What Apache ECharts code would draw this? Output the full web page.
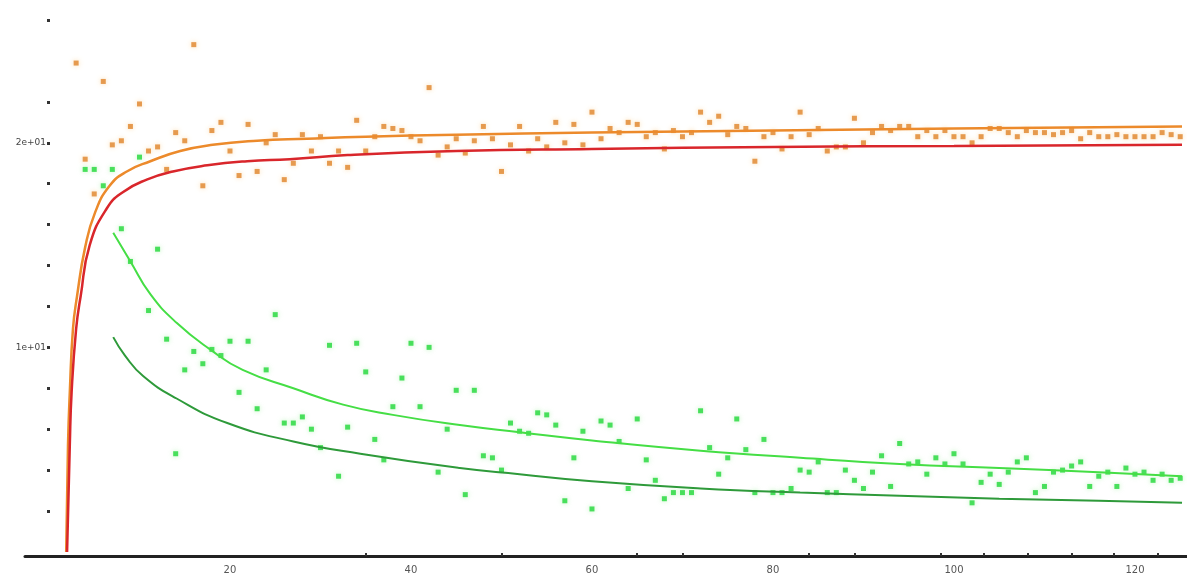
<!DOCTYPE html>
<html>
<head>
<meta charset="utf-8">
<script src="https://cdn.jsdelivr.net/npm/echarts@6/dist/echarts.min.js"></script>
<style>
  html, body { margin: 0; padding: 0; background: #fff; }
  #main { width: 1187px; height: 575px; }
</style>
</head>
<body>
<div id="main"></div>
<script>
// scatter samples, one per step, orange from x=3, green from x=4
var orangeStart = 3;
var orangeY = [
    23.9, 19.2, 17.5, 23.0, 19.9, 20.1, 20.8, 21.9, 19.6, 19.8,
    18.7, 20.5, 20.1, 24.8, 17.9, 20.6, 21.0, 19.6, 18.4, 20.9,
    18.6, 20.0, 20.4, 18.2, 19.0, 20.4, 19.6, 20.3, 19.0, 19.6,
    18.8, 21.1, 19.6, 20.3, 20.8, 20.7, 20.6, 20.3, 20.1, 22.7,
    19.4, 19.8, 20.2, 19.5, 20.1, 20.8, 20.2, 18.6, 19.9, 20.8,
    19.6, 20.2, 19.8, 21.0, 20.0, 20.9, 19.9, 21.5, 20.2, 20.7,
    20.5, 21.0, 20.9, 20.3, 20.5, 19.7, 20.6, 20.3, 20.5, 21.5,
    21.0, 21.3, 20.4, 20.8, 20.7, 19.1, 20.3, 20.5, 19.7, 20.3,
    21.5, 20.4, 20.7, 19.6, 19.8, 19.8, 21.2, 20.0, 20.5, 20.8,
    20.6, 20.8, 20.8, 20.3, 20.6, 20.3, 20.6, 20.3, 20.3, 20.0,
    20.3, 20.7, 20.7, 20.5, 20.3, 20.6, 20.5, 20.5, 20.4, 20.5,
    20.6, 20.2, 20.5, 20.3, 20.3, 20.4, 20.3, 20.3, 20.3, 20.3,
    20.5, 20.4, 20.3
];
var greenStart = 4;
var greenY = [
    18.7, 18.7, 17.9, 18.7, 15.8, 14.2, 19.3, 11.8, 14.8, 10.4,
    4.8, 8.9, 9.8, 9.2, 9.9, 9.6, 10.3, 7.8, 10.3, 7.0,
    8.9, 11.6, 6.3, 6.3, 6.6, 6.0, 5.1, 10.1, 3.7, 6.1,
    10.2, 8.8, 5.5, 4.5, 7.1, 8.5, 10.2, 7.1, 10.0, 3.9,
    6.0, 7.9, 2.8, 7.9, 4.7, 4.6, 4.0, 6.3, 5.9, 5.8,
    6.8, 6.7, 6.2, 2.5, 4.6, 5.9, 2.1, 6.4, 6.2, 5.4,
    3.1, 6.5, 4.5, 3.5, 2.6, 2.9, 2.9, 2.9, 6.9, 5.1,
    3.8, 4.6, 6.5, 5.0, 2.9, 5.5, 2.9, 2.9, 3.1, 4.0,
    3.9, 4.4, 2.9, 2.9, 4.0, 3.5, 3.1, 3.9, 4.7, 3.2,
    5.3, 4.3, 4.4, 3.8, 4.6, 4.3, 4.8, 4.3, 2.4, 3.4,
    3.8, 3.3, 3.9, 4.4, 4.6, 2.9, 3.2, 3.9, 4.0, 4.2,
    4.4, 3.2, 3.7, 3.9, 3.2, 4.1, 3.8, 3.9, 3.5, 3.8,
    3.5, 3.6
];

// fitted curves as [x, y]
var fitOrange = [[1.9, 0.0], [2.1, 5.2], [2.3, 7.8], [2.65, 10.9], [3.1, 12.5], [4.0, 14.9],
    [5.1, 16.6], [6.7, 17.9], [8.6, 18.6], [11.2, 19.1], [14.5, 19.6], [18.1, 19.9],
    [23, 20.1], [28.5, 20.2], [35, 20.3], [45, 20.4], [60, 20.5], [80, 20.6],
    [100, 20.7], [125.2, 20.8]];
var fitRed = [[2.0, 0.0], [2.3, 5.2], [2.5, 7.8], [3.0, 10.9], [3.5, 12.5], [4.5, 15.0],
    [6.4, 16.8], [8.2, 17.6], [10.8, 18.2], [13.7, 18.6], [17.5, 18.9], [21.9, 19.1],
    [26.6, 19.2], [33, 19.4], [45, 19.6], [60, 19.7], [80, 19.8], [100, 19.85],
    [125.2, 19.9]];
var fitGreen = [[7.1, 15.6], [9.0, 14.2], [11.2, 12.6], [14.1, 11.2], [17.8, 9.9],
    [21.4, 8.9], [27.0, 8.0], [32.5, 7.2], [38.0, 6.7], [45.4, 6.2], [52, 5.85],
    [60, 5.45], [72, 4.95], [83, 4.6], [94, 4.3], [105, 4.1], [116, 3.9], [125.2, 3.7]];
var fitDarkGreen = [[7.1, 10.5], [8.4, 9.6], [10.4, 8.6], [14.1, 7.5], [19.7, 6.3],
    [27.0, 5.4], [34.4, 4.8], [45.4, 4.1], [52, 3.8], [60, 3.45], [72, 3.1], [83, 2.9],
    [94, 2.75], [105, 2.6], [116, 2.5], [125.2, 2.4]];

// axis ticks and labels
var xLabels = [20, 40, 60, 80, 100, 120];
var xTicks = [35, 50, 65, 70, 84, 89, 98.5, 103.3, 108.2, 113, 117.7, 122.5];
var yTicks = [2, 4, 6, 8, 10, 12, 14, 16, 18, 20, 22, 26];
var yLabels = [10, 20];
var yLabelText = { 10: '1e+01', 20: '2e+01' };

function pairs(ys, start) {
    return ys.map(function (v, i) { return [start + i, v]; });
}

function fitLine(data, color, width) {
    return {
        type: 'line',
        smooth: 0.5,
        showSymbol: false,
        data: data,
        lineStyle: { color: color, width: width }
    };
}

var chart = echarts.init(document.getElementById('main'));

chart.setOption({
    animation: false,
    grid: { left: 25, right: 0, top: 16, bottom: 13.6 },
    xAxis: {
        type: 'value',
        min: -2.65,
        max: 125.75,
        splitLine: { show: false },
        axisLine: { show: true, onZero: false, lineStyle: { color: '#222', width: 3 } },
        axisTick: { show: true, inside: true, length: 3, customValues: xTicks,
            lineStyle: { color: '#333', width: 2 } },
        axisLabel: { show: true, customValues: xLabels, margin: 9,
            fontSize: 10, color: '#555', fontFamily: 'DejaVu Sans' }
    },
    yAxis: {
        type: 'value',
        min: -0.2,
        max: 26.2,
        offset: -25,
        splitLine: { show: false },
        axisLine: { show: false },
        axisTick: { show: true, length: 3, customValues: yTicks,
            lineStyle: { color: '#333', width: 3 } },
        axisLabel: { show: true, customValues: yLabels, margin: 4,
            fontSize: 9, color: '#444', fontFamily: 'DejaVu Sans',
            formatter: function (v) { return yLabelText[v] || ''; } }
    },
    series: [
        {
            type: 'scatter',
            symbol: 'rect',
            symbolSize: 5,
            data: pairs(orangeY, orangeStart),
            itemStyle: { color: '#e0852b', shadowBlur: 5, shadowColor: 'rgba(250,200,130,0.8)' }
        },
        {
            type: 'scatter',
            symbol: 'rect',
            symbolSize: 5,
            data: pairs(greenY, greenStart),
            itemStyle: { color: '#22d83a', shadowBlur: 5, shadowColor: 'rgba(150,240,150,0.8)' }
        },
        fitLine(fitOrange, '#ec8a2b', 2.5),
        fitLine(fitRed, '#d9262b', 2.5),
        fitLine(fitGreen, '#45de45', 2),
        fitLine(fitDarkGreen, '#2e9a3a', 2)
    ]
});
</script>
</body>
</html>
